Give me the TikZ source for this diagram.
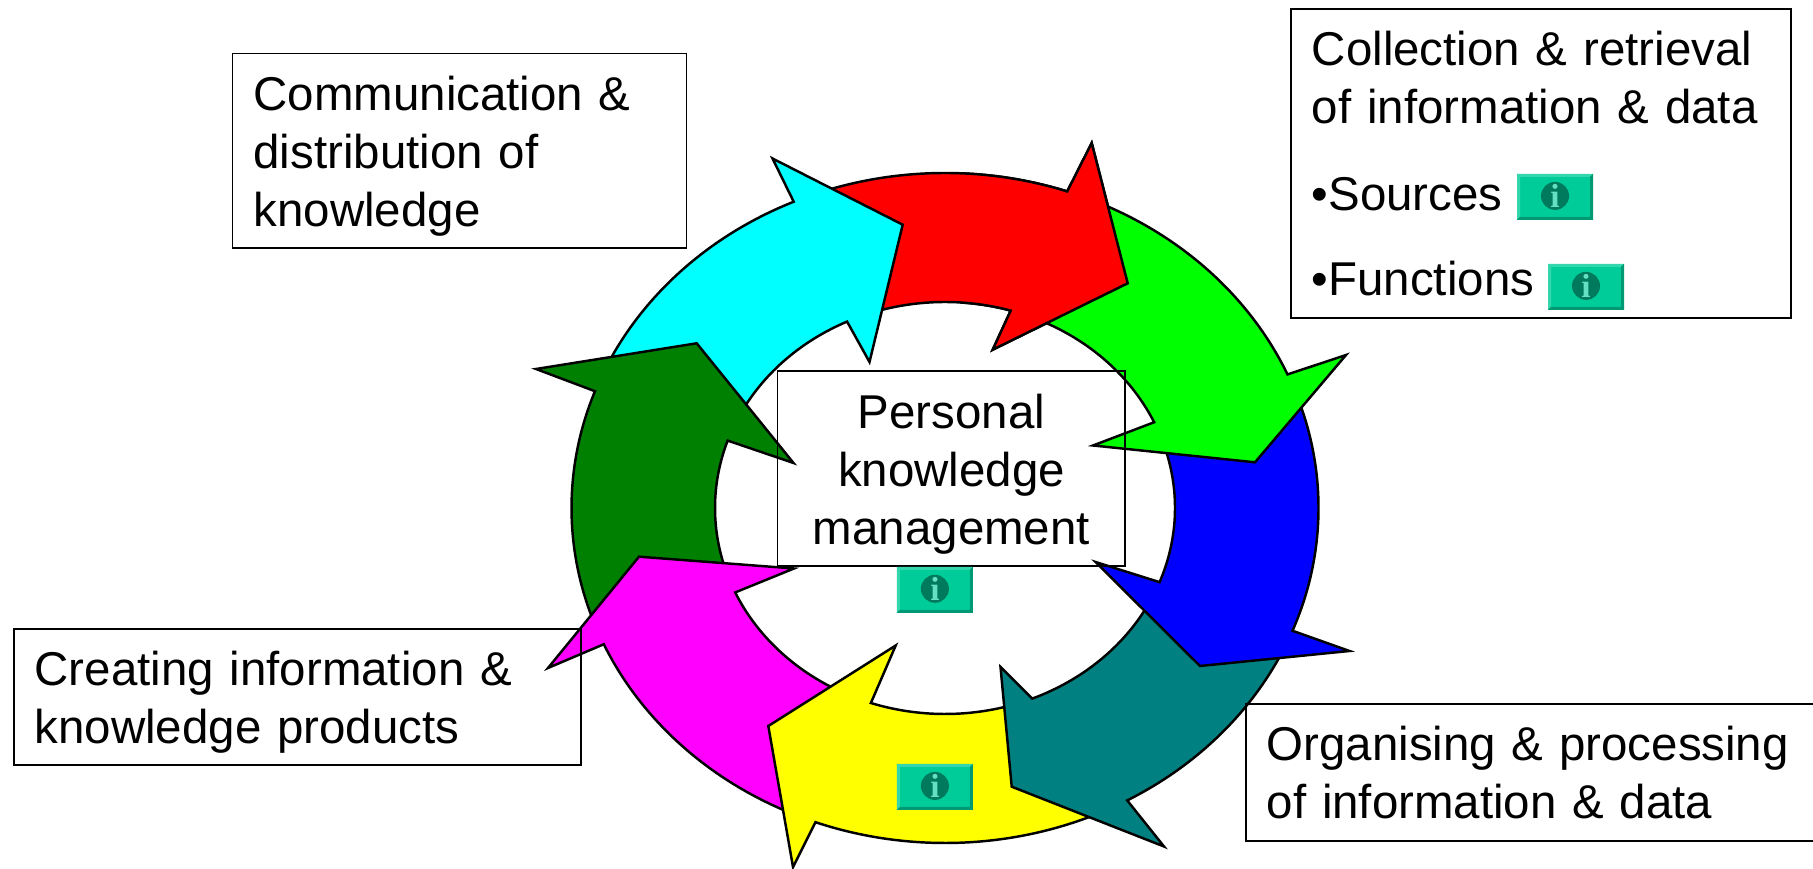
\documentclass[tikz,border=0pt]{standalone}
\usepackage{fontspec}
\setmainfont{Liberation Sans}
\newfontfamily\btnfont{Liberation Serif}
\definecolor{ringred}{HTML}{FF0000}
\definecolor{ringlime}{HTML}{00FF00}
\definecolor{ringblue}{HTML}{0000FF}
\definecolor{ringteal}{HTML}{008080}
\definecolor{ringyellow}{HTML}{FFFF00}
\definecolor{ringpink}{HTML}{FF00FF}
\definecolor{ringgreen}{HTML}{008000}
\definecolor{ringcyan}{HTML}{00FFFF}
\definecolor{btnface}{HTML}{00CC99}
\definecolor{btnlight}{HTML}{33D6AD}
\definecolor{btndark}{HTML}{009973}
\definecolor{btnicon}{HTML}{007A5C}
\definecolor{btnglyph}{HTML}{66E0C2}
\tikzset{
    ringarrow/.style={draw=black,line width=0.7pt,miter limit=20},
    ringpos/.style={shift={(9.45,3.63)}},
    outerarc/.style={x radius=3.735,y radius=3.35},
    innerarc/.style={x radius=2.3,y radius=2.06},
    infobox/.style={draw=black,line width=0.5pt,inner xsep=0.21cm,inner ysep=0pt,align=left,anchor=north west,text height=0pt,font=\fontsize{13.5}{16.44}\selectfont},
    infoglyph/.style={inner sep=0pt,text=btnglyph,font=\btnfont\bfseries\fontsize{9.5}{9.5}\selectfont},
}
\newcommand{\redarrow}{\draw[ringarrow,fill=ringred] ([ringpos]109:3.735 and 3.35) arc[start angle=109,end angle=70.9,outerarc] -- (10.917,7.28) -- (11.277,5.877) -- (9.927,5.213) -- ([ringpos]73.4:2.3 and 2.06) arc[start angle=73.4,end angle=108,innerarc] -- cycle;}
\newcommand{\infobutton}[2]{
    \begin{scope}[shift={#2}]
        \fill[btnface] (-0.38,-0.23) rectangle (0.38,0.23);
        \fill[btnlight] (-0.38,-0.23)--(-0.38,0.23)--(0.38,0.23)--(0.35,0.2)--(-0.35,0.2)--(-0.35,-0.2)--cycle;
        \fill[btndark] (0.38,0.23)--(0.38,-0.23)--(-0.38,-0.23)--(-0.35,-0.2)--(0.35,-0.2)--(0.35,0.2)--cycle;
        \fill[btnicon] (0,0.01) circle (0.14);
        \node[infoglyph] (#1) at (0,0.01) {i};
    \end{scope}
}
\begin{document}
\begin{tikzpicture}
    \useasboundingbox (0,0.02) rectangle (18.13,8.71);
    % Red
    \redarrow
    % Cyan
    \draw[ringarrow,fill=ringcyan] ([ringpos]155:3.735 and 3.35) arc[start angle=155,end angle=113.9,outerarc] -- (7.725,7.125) -- (9.027,6.463) -- (8.695,5.09) -- ([ringpos]115.2:2.3 and 2.06) arc[start angle=115.2,end angle=152,innerarc] -- cycle;
    % Dark green
    \draw[ringarrow,fill=ringgreen] ([ringpos]201:3.735 and 3.35) arc[start angle=201,end angle=159.6,outerarc] -- (5.36,5.02) -- (6.967,5.277) -- (7.935,4.08) -- ([ringpos]160.9:2.3 and 2.06) arc[start angle=160.9,end angle=198,innerarc] -- cycle;
    % Magenta
    \draw[ringarrow,fill=ringpink] ([ringpos]246.5:3.735 and 3.35) arc[start angle=246.5,end angle=204,outerarc] -- (5.48,2.03) -- (6.39,3.143) -- (7.94,3.025) -- ([ringpos]204.2:2.3 and 2.06) arc[start angle=204.2,end angle=243,innerarc] -- cycle;
    % Yellow
    \draw[ringarrow,fill=ringyellow] ([ringpos]-65:3.735 and 3.35) arc[start angle=-65,end angle=-110.3,outerarc] -- (7.93,0.04) -- (7.683,1.45) -- (8.957,2.255) -- ([ringpos]-108.8:2.3 and 2.06) arc[start angle=-108.8,end angle=-72,innerarc] -- cycle;
    % Teal
    \draw[ringarrow,fill=ringteal] ([ringpos]-24:3.735 and 3.35) arc[start angle=-24,end angle=-60.8,outerarc] -- (11.64,0.245) -- (10.117,0.843) -- (10.005,2.04) -- ([ringpos]-67.7:2.3 and 2.06) arc[start angle=-67.7,end angle=-27,innerarc] -- cycle;
    % Blue
    \draw[ringarrow,fill=ringblue] ([ringpos]20:3.735 and 3.35) arc[start angle=20,end angle=-21.5,outerarc] -- (13.495,2.2) -- (12,2.05) -- (10.955,3.09) -- ([ringpos]-21.1:2.3 and 2.06) arc[start angle=-21.1,end angle=18,innerarc] -- cycle;
    % Lime
    \draw[ringarrow,fill=ringlime] ([ringpos]66:3.735 and 3.35) arc[start angle=66,end angle=23.5,outerarc] -- (13.46,5.16) -- (12.55,4.087) -- (10.93,4.255) -- ([ringpos]24.6:2.3 and 2.06) arc[start angle=24.6,end angle=66,innerarc] -- cycle;
    % Head of red lies on top of lime
    \begin{scope}
        \clip (9.6,7.71) rectangle (12,4.9);
        \redarrow
    \end{scope}
    % Boxes
    \node[infobox,text width=4.12cm,text depth=0.8cm,minimum height=1.946cm] (commbox) at (2.317,8.183) {Communication \&\\distribution of\\knowledge};
    \node[infobox,text width=5.25cm,text depth=0.22cm,minimum height=1.36cm] (createbox) at (0.128,2.43) {Creating information \&\\knowledge products};
    \node[infobox,text width=5.28cm,text depth=0.234cm,minimum height=1.367cm] (orgbox) at (12.448,1.677) {Organising \& processing\\of information \& data};
    \node[infobox,text width=4.58cm,text depth=1.95cm,minimum height=3.09cm] (collectbox) at (12.9,8.63) {Collection \& retrieval\\of information \& data\\[0.295cm]•Sources\\[0.27cm]•Functions};
    \node[infobox,align=center,text width=3.057cm,text depth=0.796cm,minimum height=1.95cm] (pkmbox) at (7.767,5.01) {Personal\\knowledge\\management};
    % Info buttons
    \infobutton{pkminfo}{(9.349,2.812)}
    \infobutton{yellowinfo}{(9.349,0.841)}
    \infobutton{srcinfo}{(15.55,6.741)}
    \infobutton{funcinfo}{(15.86,5.841)}
\end{tikzpicture}
\end{document}
